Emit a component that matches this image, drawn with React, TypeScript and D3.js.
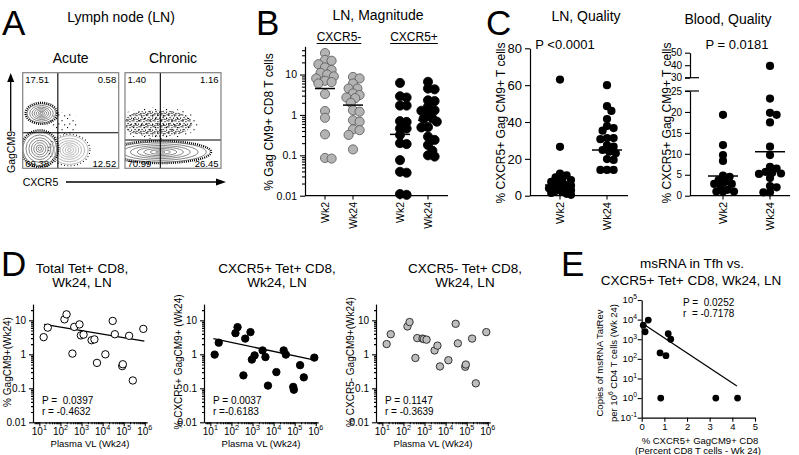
import React, { useEffect, useRef } from 'react';
import * as d3 from 'd3';

const FONT = '"Liberation Sans", Arial, Helvetica, sans-serif';

// ---- A: flow plots (channel units 0-1000) ----
const flowTitles = ['Acute', 'Chronic'];
const acuteFreq = ['17.51', '0.58', '69.38', '12.52'];
const chronicFreq = ['1.40', '1.16', '70.99', '26.45'];
const acuteGate = [366, 372];
const chronicGate = [368, 296];
// populations: [x centre, y centre, x spread, y spread]
const acutePops = [[195, 575, 150, 100], [178, 205, 175, 175], [486, 191, 195, 150]];
const acuteSparse = [[430, 470, 150, 115]];
const chronicPops = [[368, 170, 480, 105]];
const chronicCloud = [[334, 471, 370, 140]];

// ---- B: LN magnitude ----
const weeks = ['Wk2', 'Wk24'];
const subsets = ['CXCR5-', 'CXCR5+'];
const magNegWk2 = [34, 23, 22, 18, 15, 13, 11, 10, 9, 8, 7, 6.5, 6, 3.3, 1.25, 0.85, 0.33, 0.083, 0.086];
const magNegWk24 = [8.7, 8, 6, 4.5, 4.5, 3.4, 3.1, 2.7, 2.6, 2.0, 1.3, 1.2, 0.74, 0.68, 0.44, 0.42, 0.32, 0.14];
const magPosWk2 = [6.2, 2.9, 2.7, 1.7, 1.7, 0.7, 0.67, 0.46, 0.46, 0.32, 0.2, 0.19, 0.076, 0.039, 0.037, 0.011, 0.0105];
const magPosWk24 = [6.6, 4.5, 4.3, 2.3, 2.2, 1.6, 1.3, 1.27, 1.1, 0.82, 0.8, 0.68, 0.5, 0.49, 0.29, 0.24, 0.18, 0.13, 0.1, 0.093];
const magMedianNeg = [4.5, 1.75];
const magMedianPos = [0.33, 0.74];

// ---- C: quality ----
const lnWk2 = [63, 26.5, 12, 11, 10, 9, 8.5, 7.5, 7, 6, 5.5, 5, 4.5, 4, 3.5, 3, 2.5, 2, 1.5, 1, 0.5];
const lnWk24 = [60, 48.6, 46, 41.6, 37.8, 36.7, 35.3, 31.3, 31.3, 30.7, 27.5, 26.6, 24.8, 23.9, 23, 19.9, 19.4, 14, 14, 14];
const lnMedian = [5.8, 24.8];
const bloodWk2 = [19.3, 12.1, 9.7, 8.3, 4.8, 4.5, 3.7, 3.3, 2.8, 2.8, 2.2, 1.4, 1.0, 1.0, 1.0];
const bloodWk24 = [39.4, 23.2, 19.8, 19.3, 17.5, 11.7, 9.7, 6.9, 6.5, 5.7, 5.5, 5.3, 5.2, 4.2, 2.3, 2.0, 0.8, 0.8];
const bloodMedian = [4.7, 10.5];

// ---- D: vs plasma viral load ----
const plasmaVL = [16, 25, 155, 195, 370, 450, 800, 930, 1250, 3000, 4100, 5400, 13500, 30000, 38000, 85000, 91000, 180000, 270000, 850000];
const totalTet = [3.2, 6.1, 10.7, 15, 1.05, 6.4, 7.6, 3.6, 3.8, 2.6, 2.75, 0.56, 1.0, 9.6, 3.9, 0.45, 0.51, 3.5, 0.17, 5.6];
const cxcr5PosTet = [0.98, 2.2, 4.2, 6.3, 0.24, 2.9, 4.5, 0.7, 0.93, 1.3, 0.83, 0.12, 0.3, 1.3, 0.98, 0.11, 0.091, 0.48, 0.21, 0.8];
const cxcr5NegTet = [2.0, 3.9, 6.6, 8.9, 0.78, 3.0, 2.9, 2.8, 2.7, 1.3, 1.8, 0.44, 0.67, 7.9, 2.1, 0.43, 0.5, 2.9, 0.14, 4.5];
const dTitles = [['Total Tet+ CD8,', 'Wk24, LN'], ['CXCR5+ Tet+ CD8,', 'Wk24, LN'], ['CXCR5- Tet+ CD8,', 'Wk24, LN']];
const dYLabels = ['% GagCM9+(Wk24)', '% CXCR5+ GagCM9+ (Wk24)', '% CXCR5- GagCM9+(Wk24)'];
const dStats = [['P =  0.0397', 'r = -0.4632'], ['P = 0.0037', 'r =-0.6183'], ['P = 0.1147', 'r = -0.3639']];
// fitted lines: [[VL from, VL to], [value from, value to]]
const totalFit = [[17, 950000], [7.6, 2.45]];
const cxcr5PosFit = [[14, 900000], [2.9, 0.67]];

// ---- E: msRNA vs CXCR5+ CD8 ----
const eCxcr5 = [0.07, 0.15, 0.29, 0.81, 0.84, 1.07, 1.17, 1.28, 3.27, 4.23];
const eMsRna = [5200, 2400, 9500, 200, 1, 145, 1900, 1000, 1, 1];
const eFit = [[0.07, 4.2], [6000, 4.1]];
const eStats = ['P =  0.0252', 'r  = -0.7178'];

// compact beeswarm: overlap allowed, width capped
function swarm(vals: number[], y: (v: number) => number, r: number, step: number, maxOff: number) {
  const placed: { x: number; y: number }[] = [];
  const minD = (o: number, py: number) =>
    placed.reduce((m, q) => Math.min(m, Math.hypot(q.x - o, q.y - py)), Infinity);
  vals.map((v) => y(v)).sort((a, b) => a - b).forEach((py) => {
    let best = 0, bestD = -1;
    for (let k = 0; k < 40; k++) {
      const o = k === 0 ? 0 : (k % 2 ? 1 : -1) * Math.ceil(k / 2) * step;
      if (Math.abs(o) > maxOff) break;
      const d = minD(o, py);
      if (d >= r * 1.35) { best = o; bestD = Infinity; break; }
      if (d > bestD) { bestD = d; best = o; }
    }
    placed.push({ x: best, y: py });
  });
  return placed;
}

function minorTicks(d0: number, d1: number) {
  const out: number[] = [];
  for (let e = Math.floor(Math.log10(d0)); e <= Math.ceil(Math.log10(d1)); e++) {
    for (let m = 2; m < 10; m++) {
      const v = m * Math.pow(10, e);
      if (v > d0 * 1.0001 && v < d1 * 0.9999) out.push(v);
    }
  }
  return out;
}

function tidy(ax: any, fs: number) {
  ax.attr('font-family', FONT).attr('font-size', fs);
  ax.selectAll('path.domain').attr('stroke', '#000').attr('stroke-width', 1.2);
  ax.selectAll('line').attr('stroke', '#000').attr('stroke-width', 1.1);
  ax.selectAll('text').attr('fill', '#000');
}

function sup(t: any, exp: string, fs: number) {
  t.append('tspan').text('10');
  t.append('tspan').attr('font-size', fs * 0.72).attr('dy', -fs * 0.42).text(exp);
}

export default function App() {
  const ref = useRef<SVGSVGElement | null>(null);

  useEffect(() => {
    document.body.style.margin = '0';
    const svg = d3.select(ref.current as SVGSVGElement);
    svg.selectAll('*').remove();
    svg.attr('font-family', FONT);
    const defs = svg.append('defs');

    const text = (p: any, x: number, y: number, s: string, fs: number, anchor = 'middle') =>
      p.append('text').attr('x', x).attr('y', y).attr('font-size', fs).attr('text-anchor', anchor)
        .attr('fill', '#000').style('white-space', 'pre').text(s);
    const vtext = (p: any, x: number, y: number, s: string, fs: number) =>
      p.append('text').attr('transform', `translate(${x},${y}) rotate(-90)`).attr('font-size', fs)
        .attr('text-anchor', 'middle').attr('fill', '#000').text(s);
    const hline = (p: any, x1: number, x2: number, y: number, w = 1.2) =>
      p.append('line').attr('x1', x1).attr('x2', x2).attr('y1', y).attr('y2', y).attr('stroke', '#000').attr('stroke-width', w);
    const vline = (p: any, x: number, y1: number, y2: number, w = 1.2) =>
      p.append('line').attr('x1', x).attr('x2', x).attr('y1', y1).attr('y2', y2).attr('stroke', '#000').attr('stroke-width', w);

    // panel letters
    [['A', 2, 35], ['B', 256, 35], ['C', 486, 35], ['D', 1, 276], ['E', 561, 276]].forEach(([s, x, y]) =>
      text(svg, x as number, y as number, s as string, 35, 'start'));

    // ================= A =================
    text(svg, 121, 22, 'Lymph node (LN)', 14);
    const dotPattern = (id: string, w: number, h: number, pts: number[][]) => {
      const pat = defs.append('pattern').attr('id', id).attr('width', w).attr('height', h).attr('patternUnits', 'userSpaceOnUse');
      pts.forEach(([px, py]) => pat.append('rect').attr('x', px).attr('y', py).attr('width', 1.1).attr('height', 1.1).attr('fill', '#000'));
    };
    dotPattern('speck', 7, 6, [[0.3, 0.4], [3.4, 1.1], [1.5, 2.9], [5.0, 3.6], [2.6, 4.7], [5.6, 0.2], [4.1, 5.4], [0.4, 4.9]]);
    dotPattern('sparse', 11, 9, [[1, 1], [6.5, 3.2], [3.2, 6.4], [9.1, 7.3]]);

    const flowSets = [
      { x0: 22.7, title: flowTitles[0], freq: acuteFreq, gate: acuteGate, pops: acutePops, sparse: acuteSparse, cloud: [] as number[][] },
      { x0: 125, title: flowTitles[1], freq: chronicFreq, gate: chronicGate, pops: chronicPops, sparse: [] as number[][], cloud: chronicCloud },
    ];
    const boxW = 96, boxH = 95.6, boxY = 72.7;
    flowSets.forEach((f, i) => {
      const fx = d3.scaleLinear().domain([0, 1000]).range([f.x0, f.x0 + boxW]);
      const fy = d3.scaleLinear().domain([0, 1000]).range([boxY + boxH, boxY]);
      text(svg, f.x0 + boxW / 2, 63, f.title, 14);
      defs.append('clipPath').attr('id', `flow${i}`).append('rect')
        .attr('x', f.x0).attr('y', boxY).attr('width', boxW).attr('height', boxH);
      const g = svg.append('g').attr('clip-path', `url(#flow${i})`);
      const ell = (p: number[], k: number) => g.append('ellipse').attr('cx', fx(p[0])).attr('cy', fy(p[1]))
        .attr('rx', (fx(p[0] + p[2]) - fx(p[0])) * k).attr('ry', (fy(p[1]) - fy(p[1] + p[3])) * k);
      f.sparse.forEach((p) => ell(p, 1).attr('fill', 'url(#sparse)'));
      f.cloud.forEach((p) => {
        ell(p, 1.2).attr('fill', 'url(#sparse)');
        ell(p, 1).attr('fill', 'url(#speck)');
        ell(p, 0.7).attr('fill', 'url(#sparse)');
      });
      f.pops.forEach((p, j) => {
        const light = i === 0 && j === 2;
        ell(p, 1.1).attr('fill', 'none').attr('stroke', '#000').attr('stroke-width', light ? 1.2 : 2.3)
          .attr('stroke-dasharray', light ? '0.8 2.5' : '1 1.1');
        [1, 0.82, 0.65, 0.5, 0.36, 0.22, 0.1].forEach((k) =>
          ell(p, k).attr('fill', 'none').attr('stroke', light ? '#9a9a9a' : '#555').attr('stroke-width', 0.7));
      });
      vline(svg, fx(f.gate[0]), boxY, boxY + boxH, 1.1);
      hline(svg, f.x0, f.x0 + boxW, fy(f.gate[1]), 1.1);
      svg.append('rect').attr('x', f.x0).attr('y', boxY).attr('width', boxW).attr('height', boxH)
        .attr('fill', 'none').attr('stroke', '#808080').attr('stroke-width', 1.2);
      text(svg, f.x0 + 2.5, boxY + 10, f.freq[0], 9.5, 'start');
      text(svg, f.x0 + boxW - 2.5, boxY + 10, f.freq[1], 9.5, 'end');
      text(svg, f.x0 + 2.5, boxY + boxH - 1.2, f.freq[2], 9.5, 'start');
      text(svg, f.x0 + boxW - 2.5, boxY + boxH - 1.2, f.freq[3], 9.5, 'end');
    });
    // axis arrows
    vline(svg, 10.7, 131, 80, 1.3);
    svg.append('path').attr('d', 'M10.7,73 L7.2,82 L14.2,82 Z').attr('fill', '#000');
    vtext(svg, 14.5, 152, 'GagCM9', 10.5);
    text(svg, 22.7, 186, 'CXCR5', 10.5, 'start');
    hline(svg, 66, 218, 182, 1.3);
    svg.append('path').attr('d', 'M226,182 L216,178.5 L216,185.5 Z').attr('fill', '#000');

    // ================= B =================
    text(svg, 378, 20, 'LN, Magnitude', 14);
    vtext(svg, 273, 122, '% Gag CM9+ CD8 T cells', 12);
    const yB = d3.scaleLog().domain([0.01, 50]).range([195.7, 46.3]);
    const xB = d3.scalePoint().domain(subsets).range([339, 414]);
    const xW = d3.scalePoint().domain(weeks).range([-14, 14]);
    const axB = svg.append('g').attr('transform', 'translate(305,0)');
    axB.call(d3.axisLeft(yB).tickValues([0.01, 0.1, 1, 10]).tickSize(5).tickSizeOuter(0).tickFormat(d3.format('~g') as any));
    axB.append('g').call(d3.axisLeft(yB).tickValues(minorTicks(0.01, 50)).tickSize(3).tickFormat(() => ''))
      .select('.domain').remove();
    tidy(axB, 10.5);
    hline(svg, 305, 448, 195.7);
    subsets.forEach((s) => {
      const t = text(svg, xB(s)!, 41, s, 12);
      const w = (t.node() as SVGTextElement).getComputedTextLength();
      hline(svg, xB(s)! - w / 2, xB(s)! + w / 2, 43.5, 1);
    });
    const magData = [[magNegWk2, magNegWk24], [magPosWk2, magPosWk24]];
    const magMedians = [magMedianNeg, magMedianPos];
    subsets.forEach((s, i) => weeks.forEach((w, j) => {
      const cx = xB(s)! + xW(w)!;
      swarm(magData[i][j], yB, 4.6, 2.2, 9).forEach((p) => svg.append('circle')
        .attr('cx', cx + p.x).attr('cy', p.y).attr('r', 4.6)
        .attr('fill', i ? '#000' : '#b3b3b3').attr('stroke', i ? '#000' : '#555').attr('stroke-width', 0.8));
      hline(svg, cx - 10, cx + 10, yB(magMedians[i][j]), 1.5);
      vline(svg, cx, 195.7, 199.5, 1.1);
      svg.append('text').attr('transform', `translate(${cx + 3.8},202) rotate(-90)`)
        .attr('text-anchor', 'end').attr('font-size', 10.5).text(w);
    }));

    // ================= C =================
    const qualityPanel = (opts: any) => {
      const { ax, x0, x1, xs, y, data, medians, title, titleX, titleY, pText, pX, labelX } = opts;
      text(svg, titleX, titleY, title, 14);
      text(svg, pX, 49, pText, 13);
      vtext(svg, labelX, 123, '% CXCR5+ Gag CM9+ T cells', 12);
      hline(svg, x0, x1, 195.7);
      weeks.forEach((w, j) => {
        const cx = xs(w)!;
        swarm(data[j], y, 4.1, 2.2, 12).forEach((p) => svg.append('circle')
          .attr('cx', cx + p.x).attr('cy', p.y).attr('r', 4.1).attr('fill', '#000'));
        hline(svg, cx - 15, cx + 15, y(medians[j]), 1.5);
        vline(svg, cx, 195.7, 199.5, 1.1);
        svg.append('text').attr('transform', `translate(${cx + 4},202) rotate(-90)`)
          .attr('text-anchor', 'end').attr('font-size', 11).text(w);
      });
      tidy(ax, 13);
    };
    const yLN = d3.scaleLinear().domain([0, 80]).range([195.7, 48.3]);
    const axLN = svg.append('g').attr('transform', 'translate(530,0)');
    axLN.call(d3.axisLeft(yLN).tickValues([0, 20, 40, 60, 80]).tickSize(5).tickSizeOuter(0));
    qualityPanel({
      ax: axLN, x0: 530, x1: 628, xs: d3.scalePoint().domain(weeks).range([560, 607]), y: yLN,
      data: [lnWk2, lnWk24], medians: lnMedian, title: 'LN, Quality', titleX: 586, titleY: 21,
      pText: 'P <0.0001', pX: 565, labelX: 505,
    });

    const yBlLow = d3.scaleLinear().domain([0, 25]).range([195.7, 91]);
    const yBlTop = d3.scaleLinear().domain([30, 50]).range([77.7, 52.7]);
    const yBlood = (v: number) => (v > 27 ? yBlTop(v) : yBlLow(v));
    const axBl = svg.append('g').attr('transform', 'translate(690,0)');
    axBl.append('g').call(d3.axisLeft(yBlLow).tickValues([0, 5, 10, 15, 20, 25]).tickSize(5).tickSizeOuter(0));
    axBl.append('g').call(d3.axisLeft(yBlTop).tickValues([30, 40, 50]).tickSize(5).tickSizeOuter(0));
    qualityPanel({
      ax: axBl, x0: 690, x1: 790, xs: d3.scalePoint().domain(weeks).range([723, 770]), y: yBlood,
      data: [bloodWk2, bloodWk24], medians: bloodMedian, title: 'Blood, Quality', titleX: 728, titleY: 24,
      pText: 'P = 0.0181', pX: 737, labelX: 671,
    });
    hline(svg, 685, 699, yBlLow(25), 1.2);
    hline(svg, 685, 699, yBlTop(30), 1.2);

    // ================= D =================
    const xD = d3.scaleLog().domain([5, 1.3e6]).range([33, 147.2]);
    const yD = d3.scaleLog().domain([0.01, 30]).range([422.3, 304.1]);
    const dSets = [totalTet, cxcr5PosTet, cxcr5NegTet];
    const dFits = [totalFit, cxcr5PosFit, null];
    const dOffsets = [0, 171, 343];
    const dTitleX = [82, 277, 465];
    const dFill = ['#fff', '#000', '#bdbdbd'];
    const dStroke = ['#000', '#000', '#333'];
    const vlMajors = [10, 100, 1e3, 1e4, 1e5, 1e6];
    dSets.forEach((vals, k) => {
      const dx = dOffsets[k];
      const g = svg.append('g').attr('transform', `translate(${dx},0)`);
      text(svg, dTitleX[k], 273, dTitles[k][0], 13.5);
      text(svg, dTitleX[k], 287, dTitles[k][1], 13.5);
      const ay = g.append('g').attr('transform', 'translate(33,0)');
      ay.call(d3.axisLeft(yD).tickValues([0.01, 0.1, 1, 10]).tickSize(4).tickSizeOuter(0).tickFormat(d3.format('~g') as any));
      ay.append('g').call(d3.axisLeft(yD).tickValues(minorTicks(0.01, 30)).tickSize(2).tickFormat(() => ''))
        .select('.domain').remove();
      tidy(ay, 10);
      const axx = g.append('g').attr('transform', 'translate(0,422.3)');
      axx.call(d3.axisBottom(xD).tickValues(vlMajors).tickSize(4).tickSizeOuter(0).tickFormat(() => ''));
      axx.append('g').call(d3.axisBottom(xD).tickValues(minorTicks(5, 1.3e6)).tickSize(2).tickFormat(() => ''))
        .select('.domain').remove();
      tidy(axx, 10);
      vlMajors.forEach((v) => sup(text(g, xD(v), 434.5, '', 10), String(Math.round(Math.log10(v))), 10));
      text(g, 90, 447, 'Plasma VL (Wk24)', 9.5);
      vtext(g, 10.5, 362, dYLabels[k], 10);
      const fit = dFits[k];
      if (fit) {
        g.append('line').attr('x1', xD(fit[0][0])).attr('x2', xD(fit[0][1]))
          .attr('y1', yD(fit[1][0])).attr('y2', yD(fit[1][1])).attr('stroke', '#000').attr('stroke-width', 1.3);
      }
      vals.forEach((v, n) => g.append('circle').attr('cx', xD(plasmaVL[n])).attr('cy', yD(v)).attr('r', 3.7)
        .attr('fill', dFill[k]).attr('stroke', dStroke[k]).attr('stroke-width', 1));
      text(g, 42, 404, dStats[k][0], 10, 'start');
      text(g, 42, 414.5, dStats[k][1], 10, 'start');
    });

    // ================= E =================
    text(svg, 692, 268, 'msRNA in Tfh vs.', 13.5);
    text(svg, 691, 285, 'CXCR5+ Tet+ CD8, Wk24, LN', 13.5);
    const xE = d3.scaleLinear().domain([0, 5]).range([641.7, 755]);
    const yE = d3.scaleLog().domain([0.1, 1e5]).range([417.7, 300]);
    const ayE = svg.append('g').attr('transform', 'translate(641.7,0)');
    ayE.call(d3.axisLeft(yE).tickValues([0.1, 1, 10, 100, 1e3, 1e4, 1e5]).tickSize(4).tickSizeOuter(0).tickFormat(() => ''));
    tidy(ayE, 9.5);
    [-1, 0, 1, 2, 3, 4, 5].forEach((e) => sup(text(svg, 637, yE(Math.pow(10, e)) + 3.3, '', 9.5, 'end'), String(e), 9.5));
    const axE = svg.append('g').attr('transform', 'translate(0,417.7)');
    axE.call(d3.axisBottom(xE).ticks(5).tickSize(4).tickSizeOuter(0));
    tidy(axE, 9.5);
    axE.selectAll('text').attr('dy', '0.6em');
    text(svg, 700, 444, '% CXCR5+ GagCM9+ CD8', 9.5);
    text(svg, 698, 454, '(Percent CD8 T cells - Wk 24)', 9.5);
    vtext(svg, 603, 363, 'Copies of msRNA TatRev', 9.5);
    const l2 = svg.append('text').attr('transform', 'translate(617,363) rotate(-90)').attr('font-size', 9.5)
      .attr('text-anchor', 'middle').attr('fill', '#000');
    l2.append('tspan').text('per 10');
    l2.append('tspan').attr('font-size', 6.8).attr('dy', -4).text('6');
    l2.append('tspan').attr('dy', 4).text(' CD4 T cells (Wk 24)');
    svg.append('line').attr('x1', xE(eFit[0][0])).attr('x2', xE(eFit[0][1]))
      .attr('y1', yE(eFit[1][0])).attr('y2', yE(eFit[1][1])).attr('stroke', '#000').attr('stroke-width', 1.3);
    eCxcr5.forEach((v, n) => svg.append('circle').attr('cx', xE(v)).attr('cy', yE(eMsRna[n])).attr('r', 3.4).attr('fill', '#000'));
    text(svg, 683, 305.5, eStats[0], 10, 'start');
    text(svg, 683, 317, eStats[1], 10, 'start');
  }, []);

  return (
    <div style={{ position: 'absolute', left: 0, top: 0 }}>
      <svg ref={ref} width={799} height={455} style={{ display: 'block', background: '#fff' }} />
    </div>
  );
}
